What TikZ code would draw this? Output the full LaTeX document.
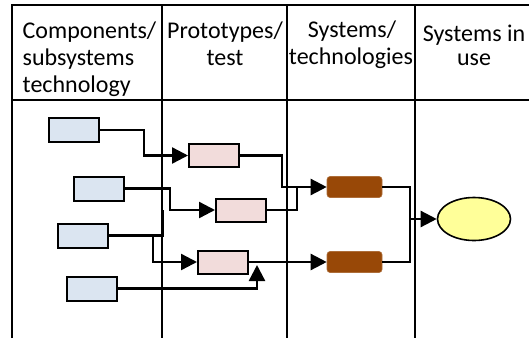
\documentclass[tikz,border=0pt]{standalone}
\usepackage{fontspec}
\setmainfont{Carlito}
\usetikzlibrary{arrows.meta,shapes.geometric}
\definecolor{boxblue}{HTML}{DBE5F1}
\definecolor{boxpink}{HTML}{F2DCDB}
\definecolor{boxbrown}{HTML}{984807}
\definecolor{ellyellow}{HTML}{FFFF99}
\tikzset{
  frameline/.style={line width=2pt, black},
  hdr/.style={font=\fontsize{24}{27}\selectfont, inner sep=0pt, anchor=base},
  hdrl/.style={hdr, anchor=base west},
  bluebox/.style={draw=black, line width=2pt, fill=boxblue, minimum width=50pt, minimum height=24pt, inner sep=0pt},
  pinkbox/.style={draw=black, line width=2pt, fill=boxpink, minimum width=50pt, minimum height=23pt, inner sep=0pt},
  brownbox/.style={draw=boxbrown!80!white, line width=0.6pt, fill=boxbrown, rounded corners=3pt, minimum width=55pt, minimum height=21pt, inner sep=0pt},
  usebox/.style={ellipse, draw=black, line width=1.6pt, fill=ellyellow, minimum width=73pt, minimum height=43pt, inner sep=0pt},
  conn/.style={line width=2.4pt, black},
  arr/.style={conn, -{Triangle[length=16pt, width=16pt]}},
}
\begin{document}
\begin{tikzpicture}[x=1pt, y=-1pt]
\useasboundingbox (0,0) rectangle (529,338);
% frame
\draw[frameline] (12,338) -- (12,5) -- (529,5);
\draw[frameline] (12,100) -- (529,100);
\draw[frameline] (161.5,5) -- (161.5,338);
\draw[frameline] (287,5) -- (287,338);
\draw[frameline] (415,5) -- (415,338);
% header texts
\node[hdrl] (h1a) at (22.5,38.3) {Components/};
\node[hdrl] (h1b) at (22.5,65.7) {subsystems};
\node[hdrl] (h1c) at (22.5,92.5) {technology};
\node[hdr] (h2a) at (225,38.3) {Prototypes/};
\node[hdr] (h2b) at (225,65.5) {test};
\node[hdr] (h3a) at (352,37.7) {Systems/};
\node[hdr] (h3b) at (351,64.5) {technologies};
\node[hdr, font=\fontsize{24}{24}\selectfont, align=center] (h4) at (474,65) {Systems in\\use};
% boxes
\node[bluebox] (B1) at (74,130) {};
\node[bluebox] (B2) at (99,188.5) {};
\node[bluebox] (B3) at (83,235.5) {};
\node[bluebox] (B4) at (92,288.5) {};
\node[pinkbox] (P1) at (214,155.5) {};
\node[pinkbox] (P2) at (241,210) {};
\node[pinkbox] (P3) at (223,262) {};
\node[brownbox] (R1) at (354.5,187) {};
\node[brownbox] (R2) at (354.5,262) {};
\node[usebox] (E) at (474,219) {};
% junction coordinates
\coordinate (j1) at (144,130);
\coordinate (j2) at (170,188.5);
\coordinate (j3a) at (162.5,235.5);
\coordinate (j3b) at (162.5,210);
\coordinate (j3c) at (153,235.5);
\coordinate (j4a) at (257,288.5);
\coordinate (j4b) at (257,265);
\coordinate (k1) at (282,155.5);
\coordinate (k2a) at (297,210);
\coordinate (k2b) at (297,187);
\coordinate (m1) at (410,187);
\coordinate (m2a) at (410,262);
\coordinate (m2b) at (410,219);
% connectors
\draw[arr] (B1.east) -- (j1) |- (P1.west);
\draw[arr] (B2.east) -- (j2) |- (P2.west);
\draw[conn] (B3.east) -- (j3a) -- (j3b);
\draw[arr] (j3c) |- (P3.west);
\draw[arr] (B4.east) -- (j4a) -- (j4b);
\draw[arr] (P1.east) -- (k1) |- (R1.west);
\draw[conn] (P2.east) -- (k2a) -- (k2b);
\draw[arr] (P3.east) -- (R2.west);
\draw[arr] (R1.east) -- (m1) |- (E.west);
\draw[conn] (R2.east) -- (m2a) -- (m2b);
\end{tikzpicture}
\end{document}
